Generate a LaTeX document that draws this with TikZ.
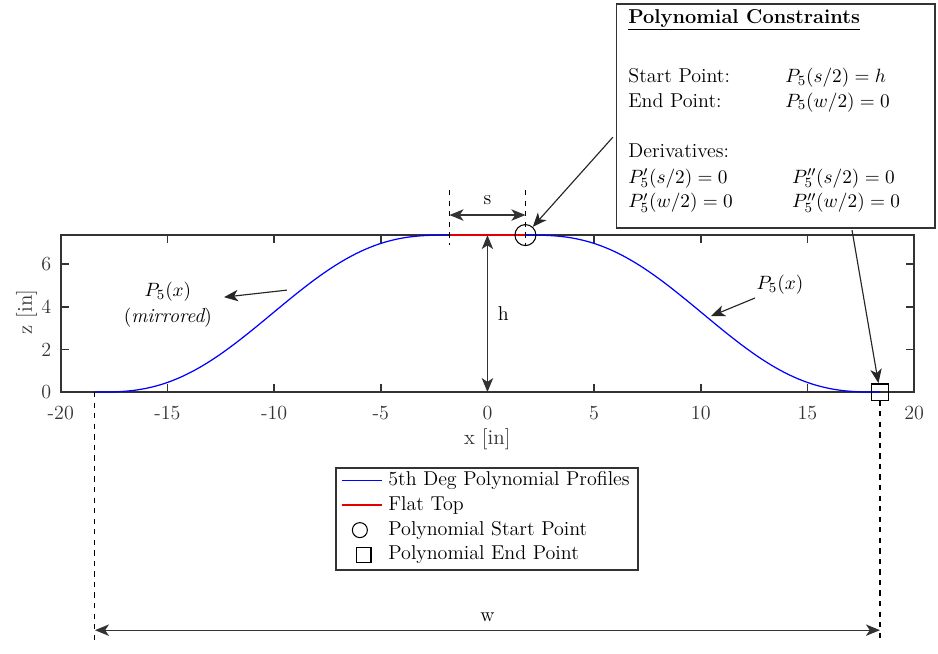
\documentclass[tikz,border=0pt]{standalone}
\usetikzlibrary{arrows.meta}

\newcommand{\hTop}{7.36}
\newcommand{\sHalf}{1.78}
\newcommand{\wHalf}{18.4}

\tikzset{
    frame/.style={line width=0.9pt, black!80},
    profile/.style={blue, line width=0.7pt},
    flattop/.style={red!90!black, line width=0.9pt},
    dimline/.style={<->, line width=0.75pt, black!80},
    callout/.style={->, line width=0.65pt, black!85},
    guide/.style={dashed, line width=0.6pt},
    ticklab/.style={text=black!80, inner sep=1pt},
    ctext/.style={anchor=base west, inner sep=0pt},
    legtext/.style={anchor=west, inner sep=0pt},
}

\begin{document}
\begin{tikzpicture}[x=0.4266cm, y=0.4266cm, font=\fontsize{11.4}{13.6}\selectfont,
    >={Stealth[length=8pt,width=6.5pt,inset=2.2pt]},
    declare function={tt(\x)=(\x-\sHalf)/(\wHalf-\sHalf);
                      prof(\x)=\hTop*(1-10*tt(\x)^3+15*tt(\x)^4-6*tt(\x)^5);}]
    \useasboundingbox (-22.85,-12.24) rectangle (21.12,18.38);

    % axes box and ticks
    \draw[frame] (-20,0) rectangle (20,\hTop);
    \foreach \x in {-15,-10,...,15} {
        \draw[frame] (\x,0) -- (\x,0.38);
        \draw[frame] (\x,\hTop) -- (\x,\hTop-0.38);
    }
    \foreach \y in {2,4,6} {
        \draw[frame] (-20,\y) -- (-19.62,\y);
        \draw[frame] (20,\y) -- (19.62,\y);
    }
    \foreach \x in {-20,-15,...,20}
        \node[ticklab] (xt\x) at (\x,-0.97) {\x};
    \foreach \y in {0,2,4,6}
        \node[ticklab, anchor=east] (yt\y) at (-20.35,\y) {\y};
    \node[text=black!80, font=\fontsize{12}{14}\selectfont] (xlab) at (0,-2.2) {x [in]};
    \node[text=black!80, rotate=90, font=\fontsize{12}{14}\selectfont] (zlab) at (-21.6,3.75) {z [in]};

    % profile curves
    \draw[profile] plot[domain=\sHalf:\wHalf, samples=100] (\x, {prof(\x)});
    \draw[profile] plot[domain=\sHalf:\wHalf, samples=100] (-\x, {prof(\x)});
    \draw[flattop] (-\sHalf,\hTop) -- (\sHalf,\hTop);

    % start and end markers
    \node[draw, circle, minimum size=0.42cm, inner sep=0pt, line width=0.6pt] (startpt) at (\sHalf,\hTop) {};
    \node[draw, rectangle, minimum size=0.33cm, inner sep=0pt, line width=0.8pt] (endpt) at (\wHalf,0) {};

    % s dimension
    \draw[guide] (-\sHalf,9.47) -- (-\sHalf,6.9);
    \draw[guide] (\sHalf,9.47) -- (\sHalf,6.9);
    \coordinate (sa) at (-\sHalf,8.3);
    \coordinate (sb) at (\sHalf,8.3);
    \draw[dimline] (sa) -- (sb);
    \node (slab) at (0,9.0) {s};

    % h dimension
    \coordinate (ha) at (0,\hTop);
    \coordinate (hb) at (0,0);
    \draw[dimline] (ha) -- (hb);
    \node (hlab) at (0.75,3.7) {h};

    % w dimension
    \draw[guide] (-\wHalf,0) -- (-\wHalf,-11.65);
    \draw[guide] (\wHalf,-0.4) -- (\wHalf,-11.65);
    \coordinate (wa) at (-\wHalf,-11.16);
    \coordinate (wb) at (\wHalf,-11.16);
    \draw[dimline] (wa) -- (wb);
    \node (wlab) at (0,-10.55) {w};

    % curve labels
    \node (lmir) at (-14.98,4.69) {\(P_5(x)\)};
    \node (lmir2) at (-14.98,3.47) {\((\textit{mirrored})\)};
    \coordinate (lmirs) at (-9.4,4.78);
    \coordinate (lmire) at (-12.35,4.45);
    \draw[callout] (lmirs) -- (lmire);
    \node (lright) at (13.71,5.02) {\(P_5(x)\)};
    \coordinate (lrights) at (12.54,4.41);
    \coordinate (lrighte) at (10.48,3.56);
    \draw[callout] (lrights) -- (lrighte);

    % constraints box
    \draw[line width=0.8pt, black!80] (6.05,7.70) rectangle (20.98,18.19);
    \node[ctext] (ctitle) at (6.59,17.30) {\underline{\textbf{Polynomial Constraints}}};
    \node[ctext] (cstart) at (6.59,14.53) {Start Point:};
    \node[ctext] (cstarteq) at (13.95,14.53) {\(P_5(s/2) = h\)};
    \node[ctext] (cend) at (6.59,13.36) {End Point:};
    \node[ctext] (cendeq) at (13.95,13.36) {\(P_5(w/2) = 0\)};
    \node[ctext] (cderiv) at (6.59,11.02) {Derivatives:};
    \node[ctext] (cd1) at (6.59,9.80) {\(P_5'(s/2) = 0\)};
    \node[ctext] (cd2) at (14.27,9.80) {\(P_5''(s/2) = 0\)};
    \node[ctext] (cd3) at (6.59,8.63) {\(P_5'(w/2) = 0\)};
    \node[ctext] (cd4) at (14.27,8.63) {\(P_5''(w/2) = 0\)};
    \coordinate (cs) at (5.88,11.95);
    \coordinate (ce) at (17.09,7.59);
    \draw[callout] (cs) -- (startpt);
    \draw[callout] (ce) -- (endpt);

    % legend
    \draw[line width=0.8pt, black!80] (-7.10,-3.55) rectangle (7.06,-8.34);
    \draw[profile] (-6.83,-4.13) -- (-4.94,-4.13);
    \draw[flattop] (-6.83,-5.30) -- (-4.94,-5.30);
    \node[draw, circle, minimum size=0.3cm, inner sep=0pt, line width=0.6pt] (legc) at (-5.98,-6.47) {};
    \node[draw, rectangle, minimum size=0.29cm, inner sep=0pt, line width=0.7pt] (legs) at (-5.8,-7.64) {};
    \node[legtext] (leg1) at (-4.66,-4.13) {5th Deg Polynomial Profiles};
    \node[legtext] (leg2) at (-4.66,-5.30) {Flat Top};
    \node[legtext] (leg3) at (-4.66,-6.47) {Polynomial Start Point};
    \node[legtext] (leg4) at (-4.66,-7.64) {Polynomial End Point};
\end{tikzpicture}
\end{document}
